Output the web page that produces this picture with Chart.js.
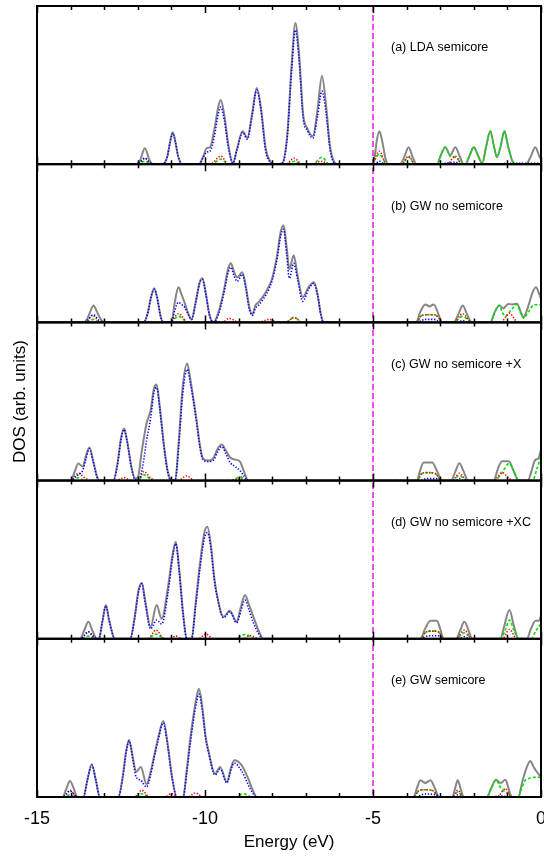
<!DOCTYPE html>
<html>
<head>
<meta charset="utf-8">
<script src="https://cdn.jsdelivr.net/npm/chart.js@4/dist/chart.umd.min.js"></script>
<style>
  html, body { margin: 0; padding: 0; background: #fff; }
  #wrap { width: 544px; height: 856px; position: relative; }
</style>
</head>
<body>
<div id="wrap"><canvas id="dos" width="544" height="856"></canvas></div>
<script>
// Energy axis
const energyMin = -15;
const energyMax = 0;
const energyTicks = [-15, -10, -5, 0];
const referenceEnergy = -5;          // dashed vertical marker

const panelLabels = [
  '(a) LDA semicore',
  '(b) GW no semicore',
  '(c) GW no semicore +X',
  '(d) GW no semicore +XC',
  '(e) GW semicore'
];

// ---- (a) LDA semicore : [energy (eV), DOS] ----
const totalA = [[-15,0],[-12.05,0],[-11.93,4],[-11.79,16],[-11.65,4],[-11.55,0],
  [-11.25,0],[-11.12,8],[-11.04,22],[-10.96,32],[-10.88,22],[-10.8,8],[-10.68,0],
  [-10.18,0],[-10.05,8],[-9.95,16],[-9.85,17],[-9.72,35],[-9.6,58],[-9.53,64],[-9.43,50],[-9.3,18],[-9.17,1],
  [-9.05,15],[-8.88,33],[-8.74,26],[-8.6,50],[-8.46,76],[-8.33,55],[-8.2,17],[-8.08,4],[-7.95,0],
  [-7.7,1],[-7.55,30],[-7.42,100],[-7.31,141],[-7.2,110],[-7.08,50],[-6.96,36],[-6.79,28],[-6.65,55],[-6.52,88],[-6.4,60],[-6.28,18],[-6.15,2],[-6.05,0],
  [-5.05,0],[-4.95,8],[-4.88,25],[-4.81,33],[-4.72,22],[-4.63,6],[-4.55,0],
  [-4.2,0],[-4.07,7],[-3.94,17],[-3.82,7],[-3.7,0],
  [-3.1,0],[-2.97,10],[-2.85,17],[-2.7,9],[-2.55,17],[-2.42,8],[-2.3,0],
  [-2.25,0],[-2.12,9],[-2.0,17],[-1.88,9],[-1.75,1],[-1.63,18],[-1.51,33],[-1.4,18],[-1.31,7],[-1.2,18],[-1.09,33],[-0.98,18],[-0.85,3],[-0.75,0],
  [-0.45,0],[-0.3,8],[-0.17,17],[-0.05,8],[0,5]];
const proj1A = [[-15,0],[-12.05,0],[-11.93,2],[-11.79,6],[-11.65,2],[-11.55,0],
  [-11.25,0],[-11.12,8],[-11.04,22],[-10.96,31],[-10.88,22],[-10.8,8],[-10.68,0],
  [-10.18,0],[-10.05,7],[-9.95,12],[-9.85,13],[-9.72,28],[-9.6,51],[-9.53,57],[-9.43,45],[-9.3,16],[-9.17,1],
  [-9.05,14],[-8.88,32],[-8.74,25],[-8.6,48],[-8.46,74],[-8.33,53],[-8.2,14],[-8.08,3],[-7.95,0],
  [-7.7,1],[-7.55,28],[-7.42,95],[-7.31,134],[-7.2,104],[-7.08,46],[-6.96,34],[-6.79,26],[-6.65,48],[-6.52,73],[-6.4,52],[-6.28,15],[-6.15,1],[-6.05,0],
  [-4.95,0],[-4.81,3],[-4.65,0],[-3.05,0],[-2.85,1],[-2.55,2],[-2.35,0],[-1.3,0],[-1.0,1],[0,1]];
const proj2A = [[-15,0],[-12.0,0],[-11.79,6],[-11.58,0],[-9.85,0],[-9.53,8],[-9.3,0],
  [-7.6,0],[-7.35,6],[-7.1,0],[-6.8,0],[-6.55,3],[-6.3,0],
  [-5.05,0],[-4.81,13],[-4.6,0],[-4.15,0],[-3.94,8],[-3.75,0],[-2.8,0],[-2.55,8],[-2.35,0],[0,0]];
const proj3A = [[-15,0],[-12.0,0],[-11.79,3],[-11.6,0],[-9.8,0],[-9.53,5],[-9.3,0],
  [-7.6,0],[-7.35,3],[-7.1,0],[-6.8,0],[-6.52,7],[-6.3,0],
  [-5.05,0],[-4.95,4],[-4.81,10],[-4.68,4],[-4.58,0],[-4.15,0],[-3.94,7],[-3.75,0],
  [-3.1,0],[-2.97,10],[-2.85,17],[-2.7,8],[-2.55,7],[-2.42,3],[-2.3,0],
  [-2.25,0],[-2.12,9],[-2.0,17],[-1.88,9],[-1.75,1],[-1.63,18],[-1.51,33],[-1.4,18],[-1.31,7],[-1.2,18],[-1.09,33],[-0.98,18],[-0.85,3],[-0.75,0],[0,0]];

// ---- (b) GW no semicore ----
const totalB = [[-15,0],[-13.62,0],[-13.5,4],[-13.4,12],[-13.32,17],[-13.22,11],[-13.1,3],[-12.98,0],
  [-11.82,0],[-11.7,10],[-11.6,26],[-11.51,34],[-11.42,24],[-11.32,6],[-11.24,0],
  [-11.0,0],[-10.9,20],[-10.79,35],[-10.7,28],[-10.6,19],[-10.5,9],[-10.4,3],[-10.28,20],[-10.16,40],[-10.08,44],[-9.98,30],[-9.87,8],[-9.75,0],
  [-9.6,10],[-9.45,30],[-9.3,55],[-9.23,59],[-9.13,50],[-9.04,45],[-8.89,50],[-8.78,35],[-8.68,15],[-8.59,8],[-8.5,17],[-8.41,20],[-8.25,27],[-8.1,36],[-8.0,44],
  [-7.85,68],[-7.75,90],[-7.66,97],[-7.57,75],[-7.49,53],[-7.36,67],[-7.25,48],[-7.09,25],[-6.92,35],[-6.76,40],[-6.65,28],[-6.55,8],[-6.47,0],
  [-3.71,0],[-3.6,10],[-3.44,18],[-3.32,16],[-3.19,18],[-3.05,8],[-2.95,0],
  [-2.6,0],[-2.45,9],[-2.33,17],[-2.2,8],[-2.06,0],
  [-1.51,0],[-1.38,10],[-1.24,17],[-1.12,14],[-0.98,18.5],[-0.85,18],[-0.71,18.7],[-0.6,10],[-0.52,5],[-0.4,14],[-0.25,30],[-0.15,35],[-0.05,28],[0,24]];
const proj1B = [[-15,0],[-13.62,0],[-13.5,2],[-13.32,7.7],[-13.15,2],[-12.98,0],
  [-11.82,0],[-11.7,10],[-11.6,26],[-11.51,33],[-11.42,24],[-11.32,6],[-11.24,0],
  [-11.0,0],[-10.9,12],[-10.79,20],[-10.7,18],[-10.6,15],[-10.5,8],[-10.4,3],[-10.28,19],[-10.16,39],[-10.08,43],[-9.98,29],[-9.87,8],[-9.75,0],
  [-9.6,8],[-9.45,27],[-9.3,51],[-9.23,55],[-9.13,46],[-9.04,41],[-8.89,48],[-8.78,33],[-8.68,13],[-8.59,7],[-8.5,14],[-8.41,17],[-8.25,24],[-8.1,33],[-8.0,42],
  [-7.85,64],[-7.75,86],[-7.66,93],[-7.57,68],[-7.49,44],[-7.36,59],[-7.25,44],[-7.09,21],[-6.92,33],[-6.76,39],[-6.65,27],[-6.55,7],[-6.47,0],
  [-3.7,0],[-3.44,3],[-3.19,3],[-2.95,0],[-2.5,0],[-2.33,2],[-2.15,0],[0,0]];
const proj2B = [[-15,0],[-13.55,0],[-13.35,7],[-13.1,0],[-11.05,0],[-10.79,8.7],[-10.5,0],
  [-9.5,0],[-9.27,4],[-9.0,0],[-8.4,0],[-8.1,3],[-7.8,0],[-7.6,0],[-7.35,5],[-7.1,0],
  [-3.71,0],[-3.58,6],[-3.44,7.7],[-3.19,7.7],[-3.05,5],[-2.95,0],[-2.6,0],[-2.33,8.7],[-2.06,0],
  [-1.2,0],[-1.06,5],[-0.94,9.3],[-0.8,4],[-0.7,0],[0,0]];
const proj3B = [[-15,0],[-13.55,0],[-13.32,3],[-13.1,0],[-11.05,0],[-10.79,6],[-10.5,0],
  [-7.6,0],[-7.35,5],[-7.1,0],
  [-3.71,0],[-3.58,6],[-3.44,7.7],[-3.19,7.7],[-3.05,5],[-2.95,0],[-2.6,0],[-2.33,6],[-2.06,0],
  [-1.51,0],[-1.38,10],[-1.24,17],[-1.15,10],[-1.06,6],[-0.9,12],[-0.71,18],[-0.6,9],[-0.52,4.3],[-0.38,10],[-0.2,17.7],[-0.05,17.7],[0,17.7]];

// ---- (c) GW no semicore +X ----
const totalC = [[-15,0],[-13.99,0],[-13.88,9],[-13.77,17],[-13.64,14],[-13.54,25],[-13.44,33],[-13.33,20],[-13.22,5],[-13.15,0],
  [-12.73,0],[-12.6,18],[-12.5,42],[-12.41,52],[-12.32,40],[-12.18,12],[-12.08,2],[-12.0,3],[-11.88,30],[-11.74,57],[-11.62,70],[-11.52,92],[-11.44,96],[-11.35,75],[-11.22,35],[-11.1,8],[-10.99,0],
  [-10.89,0],[-10.78,40],[-10.66,95],[-10.53,117],[-10.43,100],[-10.25,60],[-10.15,35],[-10.06,22],[-9.9,20],[-9.76,22],[-9.62,32],[-9.5,36],[-9.38,30],[-9.25,23],[-9.1,21],[-8.96,19],[-8.85,10],[-8.71,0],
  [-3.69,0],[-3.6,10],[-3.49,18],[-3.24,18],[-3.1,10],[-2.95,0],[-2.68,0],[-2.55,9],[-2.43,17.3],[-2.3,9],[-2.17,0],
  [-1.41,0],[-1.28,12],[-1.16,19.3],[-0.96,19.3],[-0.82,10],[-0.67,0],[-0.39,0],[-0.28,10],[-0.17,20.7],[-0.08,22],[0,30.7]];
const proj1C = [[-15,0],[-13.99,0],[-13.88,3],[-13.77,6],[-13.64,10],[-13.54,22],[-13.44,32],[-13.33,19],[-13.22,4],[-13.15,0],
  [-12.73,0],[-12.6,17],[-12.5,41],[-12.41,51],[-12.32,39],[-12.18,11],[-12.08,1],[-11.95,2],[-11.85,15],[-11.74,40],[-11.62,62],[-11.52,88],[-11.44,93],[-11.35,73],[-11.22,33],[-11.1,7],[-10.99,0],
  [-10.89,0],[-10.78,35],[-10.66,88],[-10.53,111],[-10.43,96],[-10.25,58],[-10.15,33],[-10.06,21],[-9.9,19],[-9.76,20],[-9.62,29],[-9.5,34],[-9.38,27],[-9.25,18],[-9.1,14],[-8.96,10],[-8.85,5],[-8.71,0],
  [-3.6,0],[-3.4,2],[-3.1,2],[-2.95,0],[-2.55,0],[-2.43,2],[-2.3,0],[0,0]];
const proj2C = [[-15,0],[-14.0,0],[-13.77,7.3],[-13.55,2],[-13.4,0],[-12.65,0],[-12.41,3],[-12.2,0],[-12.0,0],[-11.82,9],[-11.6,2],[-11.45,0],
  [-10.8,0],[-10.55,4.7],[-10.3,0],[-9.3,0],[-8.96,2],[-8.75,0],
  [-3.69,0],[-3.55,7],[-3.36,8],[-3.15,7],[-2.95,0],[-2.65,0],[-2.43,7.3],[-2.2,0],[-1.4,0],[-1.16,8],[-0.94,2],[-0.85,0],[0,0]];
const proj3C = [[-15,0],[-13.95,0],[-13.77,3],[-13.6,0],[-12.0,0],[-11.82,5.7],[-11.6,1],[-11.4,0],[-9.2,0],[-8.96,4],[-8.75,0],
  [-3.69,0],[-3.55,7],[-3.36,8],[-3.15,7],[-2.95,0],[-2.65,0],[-2.43,5],[-2.2,0],
  [-1.4,0],[-1.2,6],[-0.94,17.3],[-0.8,9],[-0.67,0],[-0.25,0],[-0.12,12],[0,24]];

// ---- (d) GW no semicore +XC ----
const totalD = [[-15,0],[-13.72,0],[-13.6,8],[-13.47,17],[-13.35,8],[-13.22,0],
  [-13.16,0],[-13.05,18],[-12.95,33.7],[-12.85,18],[-12.68,0],
  [-12.23,0],[-12.1,20],[-11.98,48],[-11.88,56],[-11.78,38],[-11.62,12],[-11.44,33.7],[-11.29,20],[-11.1,52],[-10.96,85],[-10.87,97],[-10.77,70],[-10.65,25],[-10.54,0],
  [-10.4,0],[-10.28,35],[-10.15,75],[-10.02,106],[-9.93,112],[-9.83,95],[-9.72,60],[-9.65,45],[-9.45,22],[-9.26,28],[-9.06,17],[-8.93,32],[-8.81,43.7],[-8.7,35],[-8.56,22],[-8.4,8],[-8.27,0],
  [-3.59,0],[-3.45,10],[-3.29,18],[-3.1,18],[-3.0,10],[-2.9,0],[-2.53,0],[-2.4,9],[-2.28,17],[-2.15,8],[-2.05,0],
  [-1.21,0],[-1.1,12],[-0.94,28.7],[-0.8,12],[-0.67,0],[-0.42,0],[-0.3,10],[-0.16,18],[-0.06,18],[0,23.7]];
const proj1D = [[-15,0],[-13.72,0],[-13.6,3],[-13.47,7],[-13.35,3],[-13.22,0],
  [-13.16,0],[-13.05,18],[-12.95,33],[-12.85,18],[-12.68,0],
  [-12.23,0],[-12.1,19],[-11.98,47],[-11.88,55],[-11.78,36],[-11.62,10],[-11.44,18.7],[-11.29,14.7],[-11.1,46],[-10.96,82],[-10.87,95],[-10.77,68],[-10.65,23],[-10.54,0],
  [-10.4,0],[-10.28,32],[-10.15,70],[-10.02,100],[-9.93,106],[-9.83,92],[-9.72,58],[-9.65,44],[-9.45,21],[-9.26,27],[-9.06,16],[-8.93,28],[-8.81,38.7],[-8.7,30],[-8.56,16],[-8.4,5],[-8.27,0],
  [-3.59,0],[-3.35,3],[-3.05,3],[-2.9,0],[-2.45,0],[-2.28,2],[-2.1,0],[0,0]];
const proj2D = [[-15,0],[-13.72,0],[-13.47,7],[-13.22,0],[-11.7,0],[-11.46,8.7],[-11.2,0],[-11.05,0],[-10.87,2.7],[-10.7,0],
  [-10.2,0],[-9.97,4.7],[-9.75,0],[-8.9,0],[-8.65,3],[-8.4,0],
  [-3.59,0],[-3.45,6],[-3.29,7.7],[-3.1,7.7],[-3.0,5],[-2.9,0],[-2.53,0],[-2.28,8.7],[-2.05,0],
  [-1.15,0],[-0.94,9.3],[-0.72,0],[0,0]];
const proj3D = [[-15,0],[-13.7,0],[-13.47,2.7],[-13.25,0],[-11.7,0],[-11.46,4.7],[-11.2,0],[-9.1,0],[-8.81,4.3],[-8.5,0],
  [-3.59,0],[-3.45,6],[-3.29,7.7],[-3.1,7.7],[-3.0,5],[-2.9,0],[-2.53,0],[-2.28,6],[-2.05,0],
  [-1.21,0],[-1.05,10],[-0.94,18.7],[-0.8,8],[-0.67,0],[-0.3,0],[-0.15,8],[0,15]];

// ---- (e) GW semicore ----
const totalE = [[-15,0],[-14.24,0],[-14.13,8],[-14.02,16],[-13.9,8],[-13.8,0],
  [-13.62,0],[-13.5,17],[-13.37,32.7],[-13.25,17],[-13.13,0],
  [-12.58,0],[-12.45,20],[-12.35,45],[-12.26,57.3],[-12.15,40],[-12.05,25],[-11.91,30],[-11.74,12.7],[-11.62,25],[-11.52,40],[-11.4,58],[-11.24,76],[-11.12,55],[-10.98,20],[-10.84,0],
  [-10.65,0],[-10.55,25],[-10.45,55],[-10.35,80],[-10.25,100],[-10.18,108],[-10.08,90],[-9.98,60],[-9.9,46.7],[-9.7,23.3],[-9.55,30],[-9.35,15],[-9.22,30],[-9.13,36.7],[-8.91,31.7],[-8.71,18],[-8.58,7],[-8.46,0],
  [-3.79,0],[-3.7,8],[-3.59,16.7],[-3.44,14],[-3.29,16.7],[-3.15,8],[-3.04,0],[-2.64,0],[-2.56,8],[-2.48,16.7],[-2.39,8],[-2.3,0],
  [-1.61,0],[-1.48,9],[-1.34,17.3],[-1.2,14],[-1.06,17.3],[-0.96,8],[-0.88,0],[-0.68,0],[-0.55,16],[-0.42,30],[-0.32,36],[-0.22,30],[-0.12,25],[0,20]];
const proj1E = [[-15,0],[-14.24,0],[-14.13,3],[-14.02,6],[-13.9,3],[-13.8,0],
  [-13.62,0],[-13.5,17],[-13.37,32],[-13.25,17],[-13.13,0],
  [-12.58,0],[-12.45,19],[-12.35,44],[-12.26,56],[-12.15,38],[-12.05,20],[-11.91,16.7],[-11.74,10],[-11.62,22],[-11.52,38],[-11.4,56],[-11.24,74],[-11.12,53],[-10.98,19],[-10.84,0],
  [-10.65,0],[-10.55,22],[-10.45,50],[-10.35,75],[-10.25,95],[-10.18,102.7],[-10.08,86],[-9.98,58],[-9.9,45],[-9.7,22],[-9.55,28],[-9.35,14],[-9.22,28],[-9.13,34],[-8.91,26],[-8.71,12],[-8.58,4],[-8.46,0],
  [-3.75,0],[-3.45,3],[-3.1,2],[-3.0,0],[-2.6,0],[-2.48,2],[-2.35,0],[-1.5,0],[-1.2,1],[-0.9,0],[0,0]];
const proj2E = [[-15,0],[-14.22,0],[-14.02,6.7],[-13.82,0],[-12.1,0],[-11.88,6.7],[-11.65,0],[-11.2,0],[-11.0,3.3],[-10.8,0],[-10.5,0],[-10.29,4],[-10.05,0],
  [-3.79,0],[-3.65,6],[-3.44,7.3],[-3.2,6],[-3.04,0],[-2.64,0],[-2.48,6.7],[-2.3,0],[-1.3,0],[-1.06,8.3],[-0.88,0],[0,0]];
const proj3E = [[-15,0],[-14.2,0],[-14.02,2.3],[-13.85,0],[-12.1,0],[-11.88,3.3],[-11.65,0],[-9.1,0],[-8.85,3.3],[-8.6,0],
  [-3.79,0],[-3.65,6],[-3.44,7.3],[-3.2,6],[-3.04,0],[-2.64,0],[-2.48,5],[-2.3,0],
  [-1.61,0],[-1.48,9],[-1.34,17],[-1.2,9],[-1.06,5],[-0.92,2],[-0.85,0],[-0.68,0],[-0.58,8],[-0.47,16.7],[-0.3,19],[-0.1,20],[0,19]];

// ---------------------------------------------------------------
const panels = [
  { axis: 'yA', total: totalA, proj1: proj1A, proj2: proj2A, proj3: proj3A },
  { axis: 'yB', total: totalB, proj1: proj1B, proj2: proj2B, proj3: proj3B },
  { axis: 'yC', total: totalC, proj1: proj1C, proj2: proj2C, proj3: proj3C },
  { axis: 'yD', total: totalD, proj1: proj1D, proj2: proj2D, proj3: proj3D },
  { axis: 'yE', total: totalE, proj1: proj1E, proj2: proj2E, proj3: proj3E }
];

const lineStyles = {
  total: { borderColor: '#868686', borderWidth: 2,   borderDash: [],         order: 4 },
  proj3: { borderColor: '#00e000', borderWidth: 1.6, borderDash: [3, 2],     order: 3 },
  proj2: { borderColor: '#ff0000', borderWidth: 1.6, borderDash: [1.3, 1.7], order: 2 },
  proj1: { borderColor: '#0000ff', borderWidth: 1.6, borderDash: [1.3, 1.7], order: 1 }
};

const toPoints = pairs => pairs.map(([x, y]) => ({ x, y }));

const datasets = [];
panels.forEach(p => {
  ['total', 'proj3', 'proj2', 'proj1'].forEach(key => {
    datasets.push(Object.assign({
      data: toPoints(p[key]),
      yAxisID: p.axis,
      xAxisID: 'x',
      pointRadius: 0,
      fill: false,
      cubicInterpolationMode: 'monotone',
      borderCapStyle: 'butt'
    }, lineStyles[key]));
  });
});

const FONT = "'Liberation Sans', Arial, Helvetica, sans-serif";
Chart.defaults.font.family = FONT;
Chart.defaults.color = '#000';

// stacked panel axes; higher weight sits higher in the stack
const scales = {
  x: {
    type: 'linear', position: 'bottom', min: energyMin, max: energyMax,
    afterBuildTicks: s => { s.ticks = energyTicks.map(v => ({ value: v })); },
    afterFit: s => { s.paddingLeft = 0; s.paddingRight = 0; s.height = 59; },
    ticks: { font: { size: 18 }, color: '#000', padding: 11, maxRotation: 0 },
    grid: { display: false, drawTicks: false },
    border: { display: false },
    title: { display: true, text: 'Energy (eV)', font: { size: 17 }, color: '#000', padding: { top: 4, bottom: 3 } }
  }
};
panels.forEach((p, i) => {
  scales[p.axis] = {
    type: 'linear', position: 'left', stack: 'dos', stackWeight: 1, weight: 10 - i,
    min: 0, max: 158, display: true,
    ticks: { display: false },
    grid: { display: false, drawTicks: false },
    border: { display: false },
    title: (p.axis === 'yC')
      ? { display: true, text: 'DOS (arb. units)', font: { size: 17 }, color: '#000', padding: { top: 4, bottom: 6.6 } }
      : { display: false }
  };
});

// frames, inward tick marks, panel captions and the dashed reference line
const panelDecor = {
  id: 'panelDecor',
  afterDatasetsDraw(chart) {
    const { ctx, chartArea, scales } = chart;
    const xs = scales.x;
    ctx.save();

    // dashed marker at the reference energy
    const xr = Math.round(xs.getPixelForValue(referenceEnergy));
    ctx.strokeStyle = '#f020f0';
    ctx.lineWidth = 1.6;
    ctx.setLineDash([6, 3]);
    ctx.beginPath();
    ctx.moveTo(xr, chartArea.top);
    ctx.lineTo(xr, chartArea.bottom);
    ctx.stroke();
    ctx.setLineDash([]);

    panels.forEach((p, i) => {
      const ys = scales[p.axis];
      const top = ys.getPixelForValue(ys.max);
      const bottom = ys.getPixelForValue(ys.min);

      ctx.strokeStyle = '#000';
      ctx.lineWidth = 2;
      ctx.strokeRect(chartArea.left, top, chartArea.right - chartArea.left, bottom - top);

      ctx.lineWidth = 1.5;
      ctx.beginPath();
      for (let e = energyMin; e <= energyMax; e += 1) {
        const x = Math.round(xs.getPixelForValue(e)) + 0.5;
        const len = (e % 5 === 0) ? 7 : 4;
        ctx.moveTo(x, top);
        ctx.lineTo(x, top + len);
        ctx.moveTo(x, bottom);
        ctx.lineTo(x, bottom - len);
      }
      ctx.stroke();

      ctx.fillStyle = '#000';
      ctx.font = '12.5px ' + FONT;
      ctx.textAlign = 'left';
      ctx.textBaseline = 'middle';
      ctx.fillText(panelLabels[i], chartArea.left + 354, top + 42);
    });
    ctx.restore();
  }
};

new Chart(document.getElementById('dos'), {
  type: 'line',
  data: { datasets },
  options: {
    responsive: false,
    animation: false,
    devicePixelRatio: 1,
    events: [],
    layout: { padding: { left: 6, right: 3, top: 6, bottom: 0 } },
    plugins: { legend: { display: false }, tooltip: { enabled: false } },
    scales
  },
  plugins: [panelDecor]
});
</script>
</body>
</html>
